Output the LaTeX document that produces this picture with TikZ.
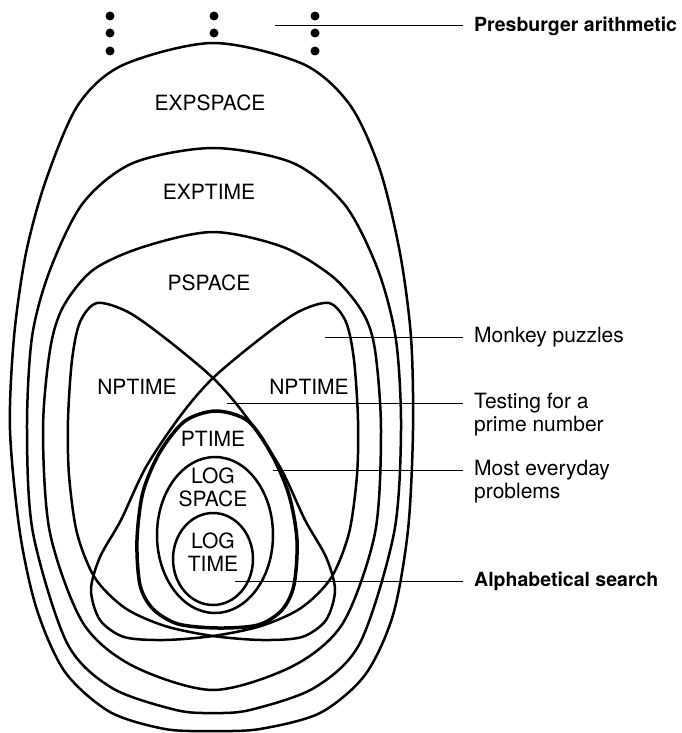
\documentclass[tikz,border=0pt]{standalone}
\usepackage{fontspec}
\setmainfont{TeX Gyre Heros}

\begin{document}
\begin{tikzpicture}[x=1pt, y=-1pt,
	class/.style={line width=2.5pt, line join=round},
	ptclass/.style={line width=3.5pt, line join=round},
	lbl/.style={font=\fontsize{21}{23}\selectfont, inner sep=0pt, align=center},
	note/.style={font=\fontsize{21}{23}\selectfont, anchor=west, align=left, inner xsep=11pt, inner ysep=0pt},
	bnote/.style={note, font=\fontsize{19.5}{22}\selectfont\bfseries},
	pointer/.style={line width=1pt}]
	\useasboundingbox (0,0) rectangle (682,733);
	% nested classes
	\draw[class] plot[smooth cycle] coordinates {(213,43) (303,64) (350,105) (380,170) (400,253) (411,337) (413,430) (408,530) (393,615) (365,675) (320,713) (260,729) (213,731) (165,729) (110,712) (65,672) (37,610) (20,533) (10,430) (14,337) (26,253) (46,180) (78,105) (123,65)};
	\draw[class] plot[smooth cycle] coordinates {(213,148) (293,163) (345,205) (378,270) (396,340) (401,430) (394,533) (360,643) (314,688) (250,710) (213,713) (176,710) (112,688) (67,643) (33,533) (27,430) (32,337) (50,270) (83,203) (133,163)};
	\draw[class] plot[smooth cycle] coordinates {(213,232) (283,247) (333,277) (363,313) (375,350) (381,430) (375,533) (343,623) (293,666) (213,690) (133,666) (83,623) (50,533) (43,430) (50,350) (63,307) (93,270) (143,247)};
	\draw[class] plot[smooth cycle] coordinates {(97,303) (128,312) (165,338) (213,378) (245,415) (280,467) (305,520) (326,557) (335,590) (326,620) (302,637) (262,640) (213,636) (165,626) (125,608) (95,578) (77,533) (69,475) (68,420) (72,360) (80,322)};
	\draw[class] plot[smooth cycle] coordinates {(329,303) (298,312) (261,338) (213,378) (181,415) (146,467) (121,520) (100,557) (91,590) (100,620) (124,637) (164,640) (213,636) (261,626) (301,608) (331,578) (349,533) (357,475) (358,420) (354,360) (346,322)};
	\draw[ptclass] plot[smooth cycle] coordinates {(216,411) (248,421) (272,455) (289,495) (297,540) (294,585) (282,610) (258,625) (218,628) (178,624) (153,609) (140,585) (137,540) (143,492) (160,452) (185,421)};
	\draw[class] (215,535) ellipse [x radius=58, y radius=78];
	\draw[class] (213,559) ellipse [x radius=40, y radius=46];
	% dots
	\foreach \y in {16,33,51} {
		\fill (110,\y) circle [radius=4.5];
		\fill (315,\y) circle [radius=4.5];
	}
	\foreach \y in {16,33} \fill (214,\y) circle [radius=4.5];
	% class names
	\node[lbl] (expspace) at (210,103) {EXPSPACE};
	\node[lbl] (exptime)  at (209,192) {EXPTIME};
	\node[lbl] (pspace)   at (209,283) {PSPACE};
	\node[lbl] (npl)      at (137,387) {NPTIME};
	\node[lbl] (npr)      at (309,387) {NPTIME};
	\node[lbl] (ptime)    at (213,439) {PTIME};
	\node[lbl] (logspace) at (213,487) {LOG\\SPACE};
	\node[lbl] (logtime)  at (213,552) {LOG\\TIME};
	% examples
	\coordinate (p-pres) at (275,26);
	\coordinate (p-monk) at (325,337);
	\coordinate (p-test) at (227,403);
	\coordinate (p-most) at (273,470);
	\coordinate (p-alph) at (235,581);
	\node[bnote] (pres) at (463,26)  {Presburger arithmetic};
	\node[note]  (monk) at (463,337) {Monkey puzzles};
	\node[note]  (test) at (463,414.5) {Testing for a\\prime number};
	\node[note]  (most) at (463,481.5) {Most everyday\\problems};
	\node[bnote] (alph) at (463,581) {Alphabetical search};
	\draw[pointer] (p-pres) -- (pres.west);
	\draw[pointer] (p-monk) -- (monk.west);
	\draw[pointer] (p-test) -- (p-test -| test.west);
	\draw[pointer] (p-most) -- (p-most -| most.west);
	\draw[pointer] (p-alph) -- (alph.west);
\end{tikzpicture}
\end{document}
